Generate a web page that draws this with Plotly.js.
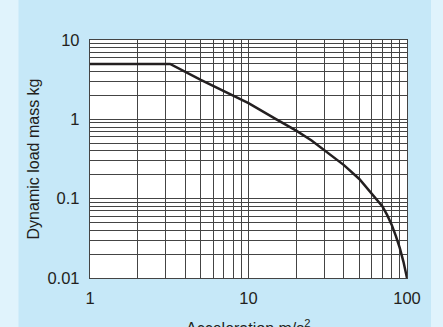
<!DOCTYPE html>
<html>
<head>
<meta charset="utf-8">
<script src="https://cdn.plot.ly/plotly-3.0.1.min.js"></script>
<style>html,body{margin:0;padding:0;background:#c6e8f8;}#chart{width:443px;height:327px;}</style>
</head>
<body>
<div id="chart"></div>
<script>
// Acceleration (m/s^2)
var acceleration = [1, 3.2, 5, 7, 10, 15, 20, 25, 30, 40, 50, 60, 65, 70, 75, 80, 85, 90, 95, 100];
// Dynamic load mass (kg)
var loadMass = [5, 5, 3.15, 2.25, 1.6, 1.0, 0.72, 0.54, 0.41, 0.265, 0.177, 0.116, 0.098, 0.08, 0.062, 0.047, 0.034, 0.024, 0.016, 0.01];

var xGridVals = [1,2,3,4,5,6,7,8,9,10,20,30,40,50,60,70,80,90,100];
var xTickText = ['1','','','','','','','','','10','','','','','','','','','100'];
var yGridVals = [0.01,0.02,0.03,0.04,0.05,0.06,0.07,0.08,0.09,0.1,0.2,0.3,0.4,0.5,0.6,0.7,0.8,0.9,1,2,3,4,5,6,7,8,9,10];
var yTickText = ['0.01','','','','','','','','','0.1','','','','','','','','','1','','','','','','','','','10'];
var xTitle = 'Acceleration m/s<sup>2</sup>';
var yTitle = 'Dynamic load mass kg';

var trace = {
  x: acceleration, y: loadMass, type: 'scatter', mode: 'lines',
  line: {color: '#231f20', width: 2.5},
  hoverinfo: 'none'
};

var fam = '"Liberation Sans", Arial, sans-serif';
var txt = '#231f20';

var layout = {
  width: 443, height: 327,
  margin: {l: 90, r: 36, t: 40, b: 49},
  paper_bgcolor: '#c6e8f8',
  plot_bgcolor: '#ffffff',
  showlegend: false,
  font: {family: fam, color: txt},
  xaxis: {
    type: 'log', range: [0, 2],
    tickmode: 'array', tickvals: xGridVals, ticktext: xTickText,
    showgrid: true, gridcolor: '#444444', gridwidth: 1,
    showline: true, mirror: true, linecolor: '#444444', linewidth: 1.2,
    ticks: '', ticklabelstandoff: 5,
    zeroline: false,
    tickfont: {size: 16.5, family: fam, color: txt}
  },
  yaxis: {
    type: 'log', range: [-2, 1],
    tickmode: 'array', tickvals: yGridVals, ticktext: yTickText,
    showgrid: true, gridcolor: '#444444', gridwidth: 1,
    showline: true, mirror: true, linecolor: '#444444', linewidth: 1.2,
    ticks: '', ticklabelstandoff: 6,
    zeroline: false,
    tickfont: {size: 16.5, family: fam, color: txt},
    title: {text: yTitle, font: {size: 16, family: fam, color: txt}, standoff: 3}
  },
  annotations: [
    {text: xTitle, xref: 'paper', yref: 'paper', x: 0.5, y: -0.155,
     xanchor: 'center', yanchor: 'top', showarrow: false,
     font: {size: 16, family: fam, color: txt}}
  ],
  shapes: [
    {type: 'rect', xref: 'paper', yref: 'paper', x0: -0.40, x1: -0.2256, y0: -0.5, y1: 1.5,
     fillcolor: '#e0f3fc', line: {width: 0}, layer: 'below'},
    {type: 'rect', xref: 'paper', yref: 'paper', x0: 1.0757, x1: 1.3, y0: -0.5, y1: 1.5,
     fillcolor: '#e0f3fc', line: {width: 0}, layer: 'below'}
  ]
};

Plotly.newPlot('chart', [trace], layout, {staticPlot: true, displayModeBar: false});
</script>
</body>
</html>
